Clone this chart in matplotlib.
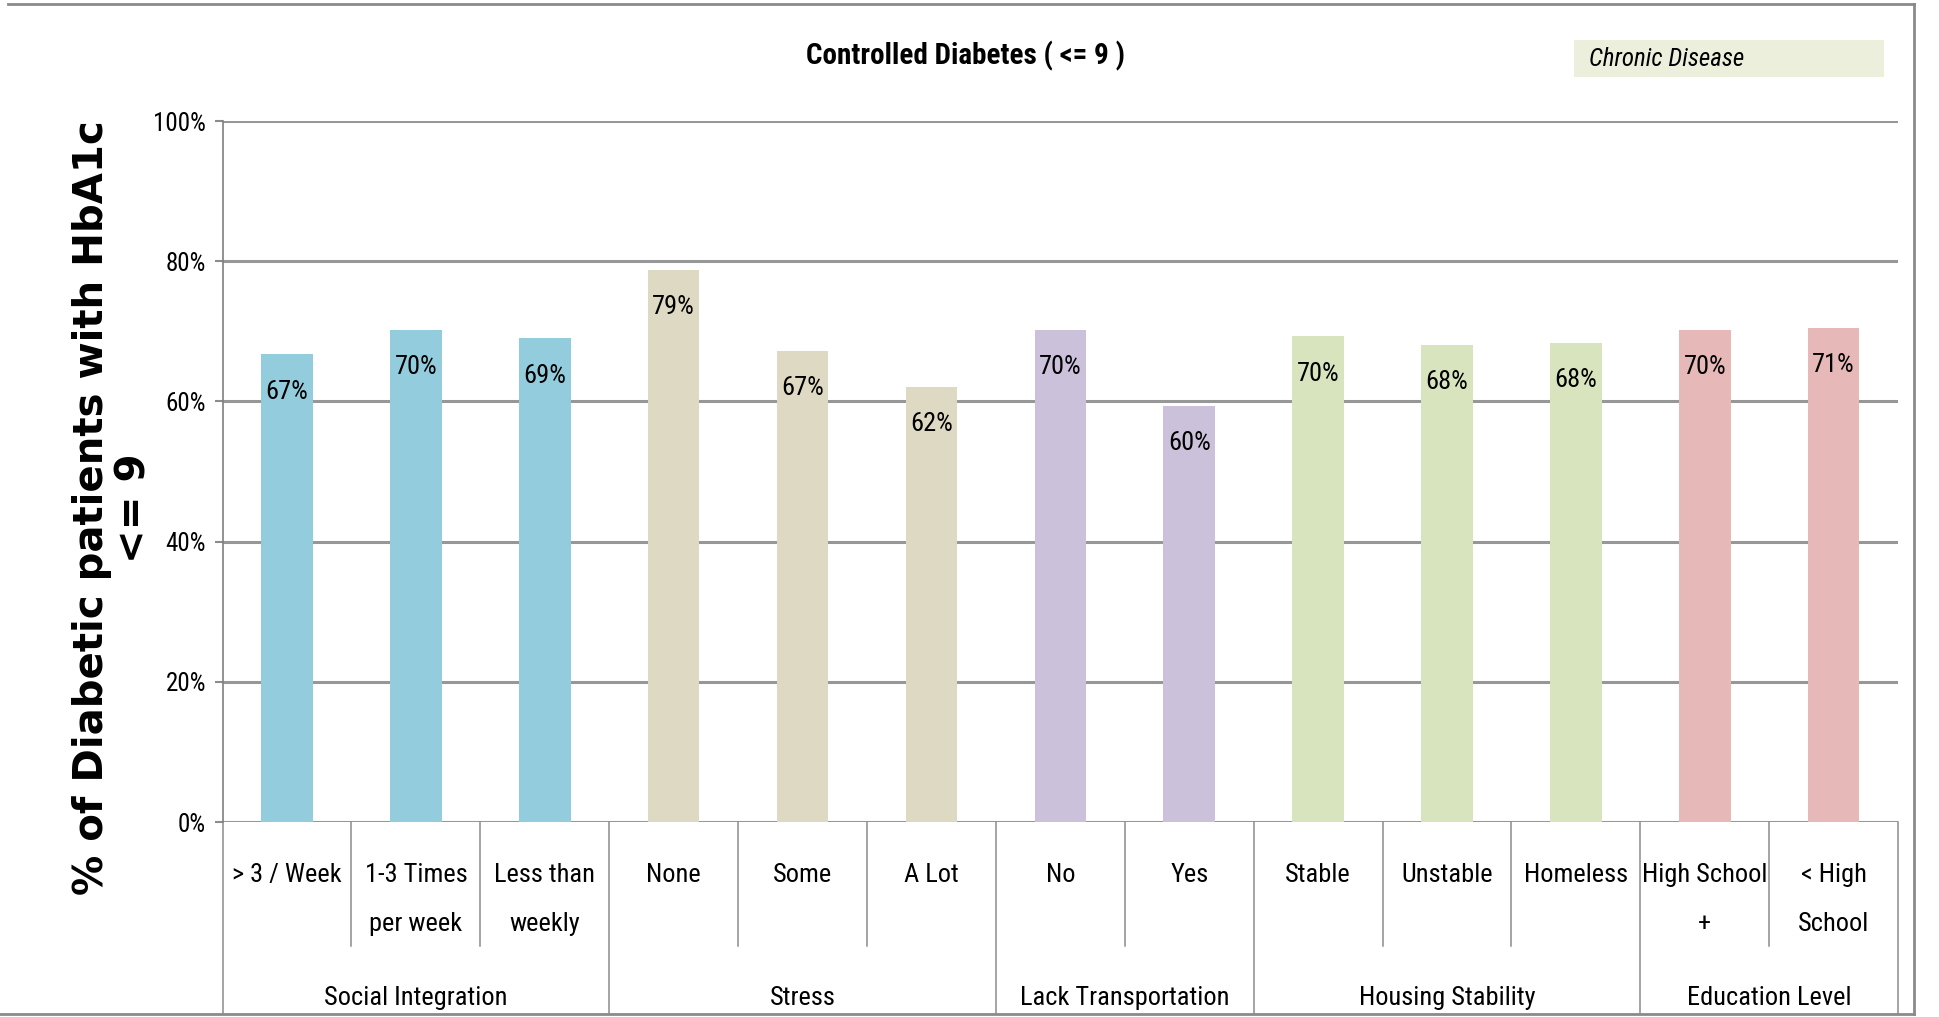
import matplotlib.pyplot as plt
from matplotlib import font_manager
from matplotlib.patches import Rectangle
from matplotlib.lines import Line2D

# data
categories = ["> 3 / Week", "1-3 Times\nper week", "Less than\nweekly",
              "None", "Some", "A Lot",
              "No", "Yes",
              "Stable", "Unstable", "Homeless",
              "High School\n+", "< High\nSchool"]
values = [0.667, 0.702, 0.690, 0.788, 0.672, 0.621, 0.702, 0.594, 0.693, 0.681, 0.684, 0.702, 0.705]
labels = ["67%", "70%", "69%", "79%", "67%", "62%", "70%", "60%", "70%", "68%", "68%", "70%", "71%"]
groups = ["Social Integration", "Stress", "Lack Transportation", "Housing Stability", "Education Level"]
group_sizes = [3, 3, 2, 3, 2]
group_colors = ["#93CDDD", "#DDD9C3", "#CCC1DA", "#D7E4BD", "#E6B9B8"]
yticks = [0, 0.2, 0.4, 0.6, 0.8, 1.0]
ytick_labels = ["0%", "20%", "40%", "60%", "80%", "100%"]

names = {f.name for f in font_manager.fontManager.ttflist}
narrow = next((n for n in ["Liberation Sans Narrow", "Roboto Condensed",
                           "Open Sans Condensed", "Liberation Sans"] if n in names), "DejaVu Sans")

fig = plt.figure(figsize=(19.39, 10.17), dpi=100)
ax = fig.add_axes([0.1148, 0.1917, 0.8641, 0.6893])

colors = []
for c, n in zip(group_colors, group_sizes):
    colors += [c] * n
x = list(range(len(values)))
bars = ax.bar(x, values, width=0.4, color=colors, zorder=2)

for xi, v, lab in zip(x, values, labels):
    ax.annotate(lab, (xi, v), xytext=(0, -27), textcoords="offset points",
                ha="center", va="center", fontsize=19, family=narrow, zorder=3)

ax.set_xlim(-0.5, len(values) - 0.5)
ax.set_ylim(0, 1)
ax.set_yticks(yticks)
ax.set_yticklabels(ytick_labels, family=narrow, fontsize=18)
ax.tick_params(axis="y", length=6, width=1.5, color="#8c8c8c", pad=6)
ax.set_xticks([])
ax.grid(axis="y", color="#979797", lw=2.2, zorder=0)
ax.set_axisbelow(True)
for s in ["top", "right", "bottom"]:
    ax.spines[s].set_visible(False)
ax.spines["left"].set_color("#7f7f7f")
ax.spines["left"].set_linewidth(1.2)

# category labels and separators below the axis
trans = ax.get_xaxis_transform()
for xi, cat in zip(x, categories):
    ax.text(xi, -0.059, cat, transform=trans, ha="center", va="top",
            fontsize=19, family=narrow, linespacing=2.3)

bounds = [-0.5]
for n in group_sizes:
    bounds.append(bounds[-1] + n)
for i in range(len(values) + 1):
    xb = i - 0.5
    y_end = -0.274 if xb in bounds else -0.177
    ax.plot([xb, xb], [0, y_end], transform=trans, color="#8c8c8c",
            lw=1.1, clip_on=False)
for g, a, b in zip(groups, bounds[:-1], bounds[1:]):
    ax.text((a + b) / 2, -0.2505, g, transform=trans, ha="center", va="center",
            fontsize=19, family=narrow)

# title, y label, legend box
fig.text(0.4977, 0.945, "Controlled Diabetes ( <= 9 )", ha="center", va="center",
         fontsize=21, fontweight="bold", family=narrow)
fig.text(0.0585, 0.5005, "% of Diabetic patients with HbA1c\n<= 9", rotation=90,
         ha="center", va="center", multialignment="center", fontsize=29,
         fontweight="bold", family="DejaVu Sans", linespacing=1.1)
fig.patches.append(Rectangle((0.8118, 0.9243), 0.16, 0.0364, transform=fig.transFigure,
                             facecolor="#ECEFDC", edgecolor="none"))
fig.text(0.8195, 0.942, "Chronic Disease", ha="left", va="center", fontsize=18,
         style="italic", family=narrow)

# outer frame lines
for xs, ys in [([0.004, 0.987], [0.996, 0.996]), ([0.987, 0.987], [0.996, 0.003]),
               ([0.0, 0.987], [0.003, 0.003])]:
    fig.lines.append(Line2D(xs, ys, transform=fig.transFigure, color="#8a8a8a", lw=2))

fig.savefig("out.png", dpi=100)
